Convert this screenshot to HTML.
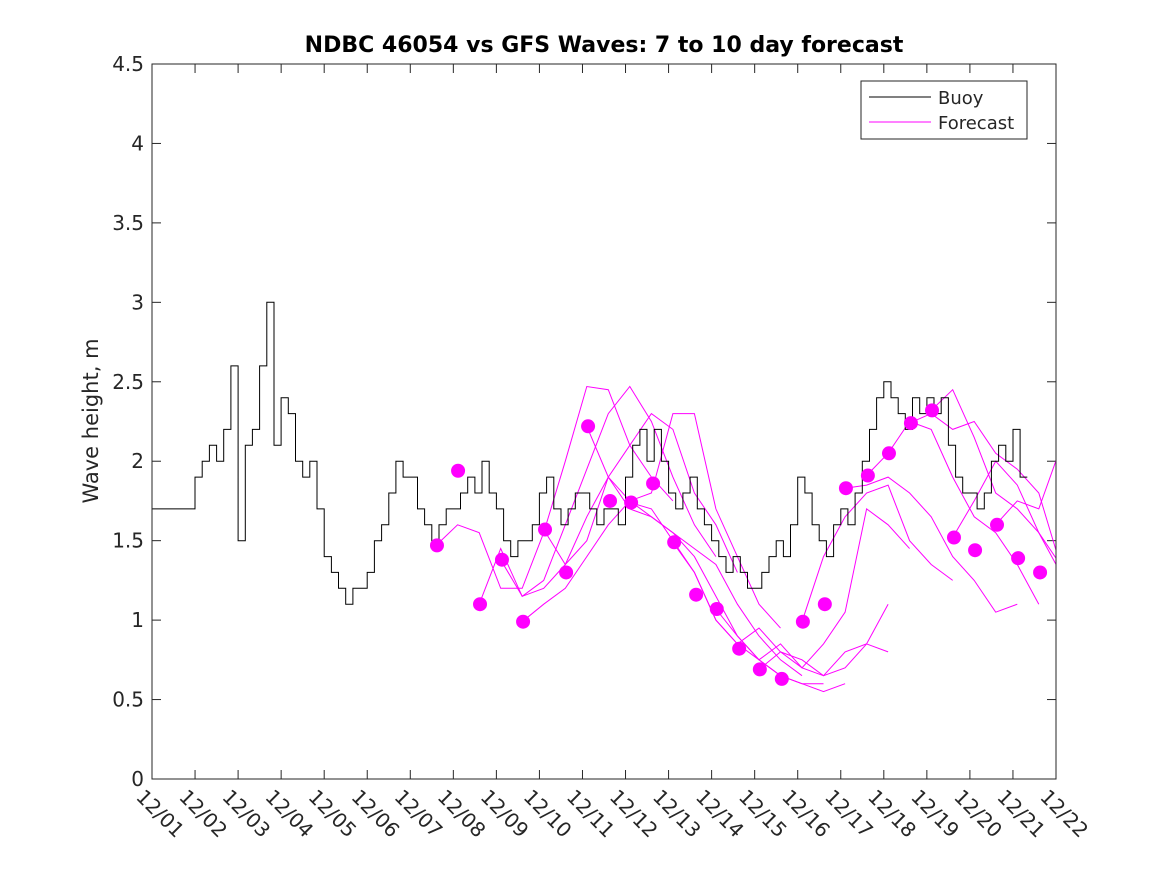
<!DOCTYPE html>
<html><head><meta charset="utf-8"><style>
body{margin:0;background:#fff;}
svg text{font-family:"DejaVu Sans","Liberation Sans",sans-serif;fill:#262626;}
</style></head><body>
<svg id="chart" width="1167" height="875" xmlns="http://www.w3.org/2000/svg">
<defs><clipPath id="plotclip"><rect x="152" y="64" width="904" height="715"/></clipPath></defs>
<rect width="1167" height="875" fill="#fff"/>
<text x="604" y="52" text-anchor="middle" font-size="22" font-weight="bold" style="fill:#000">NDBC 46054 vs GFS Waves: 7 to 10 day forecast</text>
<text transform="translate(98,421) rotate(-90)" text-anchor="middle" font-size="21">Wave height, m</text>
<g id="axes"></g>
<g id="series" clip-path="url(#plotclip)"></g>
<rect x="152" y="64" width="904" height="715" fill="none" stroke="#262626" stroke-width="1"/>
<g>
<rect x="861" y="81" width="166" height="58" fill="#fff" stroke="#262626"/>
<line x1="869" y1="97" x2="931" y2="97" stroke="#000"/>
<text x="938" y="104" font-size="18">Buoy</text>
<line x1="869" y1="122" x2="931" y2="122" stroke="#f0f"/>
<text x="938" y="129" font-size="18">Forecast</text>
</g>
</svg>
<script>
const yTicks=[0,0.5,1,1.5,2,2.5,3,3.5,4,4.5];
const xTickLabels=["12/01","12/02","12/03","12/04","12/05","12/06","12/07","12/08","12/09","12/10","12/11","12/12","12/13","12/14","12/15","12/16","12/17","12/18","12/19","12/20","12/21","12/22"];
const buoyStartDay=1;
const buoyStep=1/6;
const buoyValues=[
1.7,1.7,1.7,1.7,1.7,1.7,
1.9,2.0,2.1,2.0,2.2,2.6,
1.5,2.1,2.2,2.6,3.0,2.1,
2.4,2.3,2.0,1.9,2.0,1.7,
1.4,1.3,1.2,1.1,1.2,1.2,
1.3,1.5,1.6,1.8,2.0,1.9,
1.9,1.7,1.6,1.5,1.6,1.7,
1.7,1.8,1.9,1.8,2.0,1.8,
1.7,1.5,1.4,1.5,1.5,1.6,
1.8,1.9,1.7,1.6,1.7,1.8,
1.8,1.7,1.6,1.7,1.7,1.6,
1.9,2.1,2.2,2.0,2.2,2.0,
1.8,1.7,1.8,1.9,1.7,1.6,
1.5,1.4,1.3,1.4,1.3,1.2,
1.2,1.3,1.4,1.5,1.4,1.6,
1.9,1.8,1.6,1.5,1.4,1.6,
1.7,1.6,1.8,2.0,2.2,2.4,
2.5,2.4,2.3,2.2,2.4,2.3,
2.4,2.3,2.4,2.1,1.9,1.8,
1.8,1.7,1.8,2.0,2.1,2.0,
2.2,1.9];
const dotDays=[7.62,8.11,8.62,9.13,9.62,10.13,10.62,11.13,11.64,12.13,12.64,13.13,13.64,14.12,14.64,15.12,15.63,16.12,16.63,17.12,17.63,18.12,18.63,19.12,19.63,20.12,20.63,21.12,21.63];
const dotValues=[1.47,1.94,1.10,1.38,0.99,1.57,1.30,2.22,1.75,1.74,1.86,1.49,1.16,1.07,0.82,0.69,0.63,0.99,1.10,1.83,1.91,2.05,2.24,2.32,1.52,1.44,1.60,1.39,1.30];
const fcStep=0.5;
const fcStarts=[7.6,8.6,9.1,9.6,10.1,11.1,12.1,13.1,14.1,15.1,16.1,17.1,17.6,18.6,19.1,19.6,20.6];
const fcValues=[
[1.47,1.6,1.55,1.2,1.2,1.55,2.0,2.47,2.45,2.1,1.9,1.75],
[1.10,1.45,1.15,1.25,1.6,1.95,2.3,2.47,2.25,1.9,1.6,1.4],
[1.38,1.15,1.2,1.35,1.5,1.9,2.1,2.3,2.2,1.8,1.6,1.3],
[0.99,1.1,1.2,1.4,1.6,1.75,1.8,2.3,2.3,1.7,1.4,1.1,0.95],
[1.57,1.35,1.65,1.9,1.75,1.65,1.55,1.45,1.35,1.1,0.9,0.75,0.65],
[2.22,1.9,1.7,1.65,1.55,1.4,1.15,0.9,0.75,0.65,0.6,0.6],
[1.74,1.7,1.5,1.3,1.0,0.85,0.75,0.65,0.6,0.55,0.6],
[1.49,1.3,1.0,0.85,0.95,0.8,0.75,0.65,0.7,0.85,0.8],
[1.07,0.9,0.75,0.85,0.7,0.65,0.8,0.85,1.1],
[0.69,0.8,0.7,0.85,1.05,1.7,1.6,1.45],
[0.99,1.4,1.65,1.8,1.85,1.5,1.35,1.25],
[1.83,1.85,1.9,1.8,1.65,1.4,1.25,1.05,1.1],
[1.91,2.05,2.25,2.2,1.9,1.65,1.55,1.35,1.1],
[2.24,2.3,2.2,2.25,2.05,1.95,1.8,1.35,1.15],
[2.32,2.45,2.15,1.8,1.7,1.55,1.3,1.2,1.0],
[1.52,1.75,2.0,1.85,1.55,1.35,1.1,0.92],
[1.60,1.75,1.7,2.08]];

const NS="http://www.w3.org/2000/svg";
const X0=152,X1=1056,Y0=779,Y1=64;
function xScale(d){return X0+(d-1)*(X1-X0)/21;}
function yScale(v){return Y0-v*(Y0-Y1)/4.5;}
function mk(tag,attrs,parent){const e=document.createElementNS(NS,tag);for(const k in attrs)e.setAttribute(k,attrs[k]);parent.appendChild(e);return e;}
const axes=document.getElementById('axes'),series=document.getElementById('series');
yTicks.forEach(v=>{
 const y=yScale(v);
 let t=mk('line',{x1:X0,x2:X0+9,y1:y,y2:y,stroke:'#262626'},axes);
 
 
 let t2=mk('line',{x1:X1-9,x2:X1,y1:y,y2:y,stroke:'#262626'},axes);
 
 
 const l=mk('text',{x:X0-8,y:y+7,'text-anchor':'end','font-size':'20'},axes);
 l.textContent=String(v);
 
 
});
xTickLabels.forEach((s,i)=>{
 const x=xScale(i+1);
 let t=mk('line',{x1:x,x2:x,y1:Y0,y2:Y0-9,stroke:'#262626'},axes);
 
 
 let t2=mk('line',{x1:x,x2:x,y1:Y1,y2:Y1+9,stroke:'#262626'},axes);
 
 
 const l=mk('text',{transform:`translate(${x-17},${Y0+19}) rotate(45)`,'font-size':'20'},axes);
 l.textContent=s;
 
 
});
fcValues.forEach((arr,k)=>{
 const pts=arr.map((v,i)=>xScale(fcStarts[k]+i*fcStep).toFixed(1)+','+yScale(v).toFixed(1)).join(' ');
 const p=mk('polyline',{points:pts,fill:'none',stroke:'#f0f','stroke-width':'1'},series);
 
 
});
let bp=[];
buoyValues.forEach((v,i)=>{
 const x1=xScale(buoyStartDay+i*buoyStep),x2=xScale(buoyStartDay+(i+1)*buoyStep),y=yScale(v);
 bp.push(x1.toFixed(1)+','+y.toFixed(1));bp.push(x2.toFixed(1)+','+y.toFixed(1));
});
const bl=mk('polyline',{points:bp.join(' '),fill:'none',stroke:'#000','stroke-width':'1'},series);


dotDays.forEach((d,i)=>{
 const c=mk('circle',{cx:xScale(d),cy:yScale(dotValues[i]),r:7,fill:'#f0f'},series);
 
 
});
</script>
</body></html>
